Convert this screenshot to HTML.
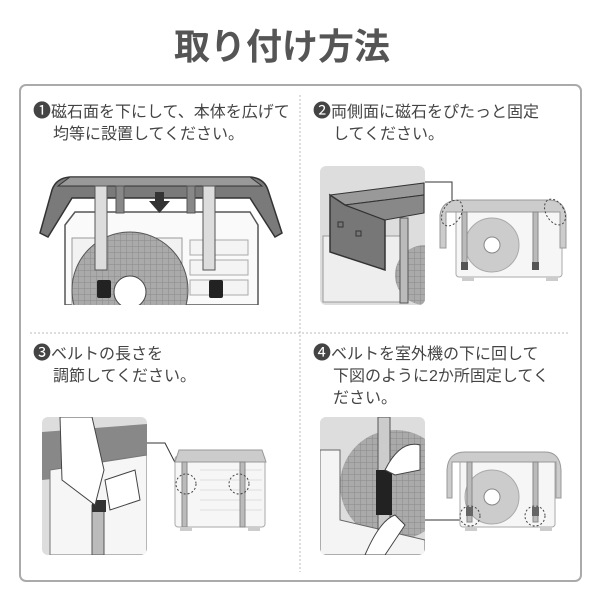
<!DOCTYPE html>
<html><head><meta charset="utf-8"><style>
body{margin:0;background:#fff;}
svg{display:block}
text{font-family:"Liberation Sans","Noto Sans CJK JP",sans-serif;fill:#444;}
</style></head><body>
<svg width="600" height="600" viewBox="0 0 600 600" xmlns="http://www.w3.org/2000/svg">
<text x="282" y="59" font-size="36" font-weight="bold" text-anchor="middle" style="fill:#555">取り付け方法</text>
<rect x="20" y="85" width="561" height="496" rx="6" fill="#fff" stroke="#aaa" stroke-width="2"/>
<line x1="300" y1="95" x2="300" y2="572" stroke="#bbb" stroke-dasharray="2,2"/>
<line x1="30" y1="333" x2="570" y2="333" stroke="#bbb" stroke-dasharray="2,2"/>

<g font-size="16">
<text x="33" y="117"><tspan font-size="18">❶</tspan>磁石面を下にして、本体を広げて</text>
<text x="53" y="139">均等に設置してください。</text>
<text x="313" y="117"><tspan font-size="18">❷</tspan>両側面に磁石をぴたっと固定</text>
<text x="333" y="139">してください。</text>
<text x="33" y="359"><tspan font-size="18">❸</tspan>ベルトの長さを</text>
<text x="53" y="381">調節してください。</text>
<text x="313" y="359"><tspan font-size="18">❹</tspan>ベルトを室外機の下に回して</text>
<text x="333" y="381">下図のように2か所固定してく</text>
<text x="333" y="403">ださい。</text>
</g>

<defs><clipPath id="c1"><rect x="30" y="160" width="260" height="145"/></clipPath>
<clipPath id="c2"><rect x="320" y="166" width="105" height="139" rx="6"/></clipPath>
<clipPath id="c3"><rect x="42" y="417" width="105" height="138" rx="6"/></clipPath>
<clipPath id="c4"><rect x="320" y="417" width="105" height="138" rx="6"/></clipPath>
<pattern id="grid" width="6" height="6" patternUnits="userSpaceOnUse"><rect width="6" height="6" fill="#aaa"/><path d="M0 0H6M0 0V6" stroke="#8a8a8a" stroke-width="1"/></pattern></defs>
<!-- Panel 1 -->
<g clip-path="url(#c1)">
<path d="M65 225 L75 212 L250 212 L258 225 L258 305 L65 305Z" fill="#fafafa" stroke="#555" stroke-width="1.5"/>
<rect x="72" y="238" width="110" height="70" fill="#f2f2f2" stroke="#999"/>
<g fill="#f4f4f4" stroke="#aaa"><rect x="190" y="240" width="58" height="15"/><rect x="190" y="260" width="58" height="15"/><rect x="190" y="280" width="58" height="15"/></g>
<circle cx="130" cy="290" r="58" fill="url(#grid)" stroke="#555"/>
<circle cx="130" cy="292" r="16" fill="#fff" stroke="#444"/>
</g>
<path d="M40 233 L52 190 Q56 178 70 177 L250 177 Q264 178 268 190 L282 233 L275 237 L250 198 L72 198 L48 237Z" fill="#7a7a7a" stroke="#333" stroke-width="1.5"/>
<path d="M70 177 L250 177 L262 186 L58 186Z" fill="#999" stroke="#333"/>
<rect x="95" y="186" width="12" height="84" fill="#ddd" stroke="#555"/>
<rect x="203" y="186" width="12" height="84" fill="#ddd" stroke="#555"/>
<rect x="116" y="186" width="8" height="27" fill="#888" stroke="#555"/>
<rect x="187" y="186" width="8" height="27" fill="#888" stroke="#555"/>
<path d="M155 192 H164 V201 H170 L159.5 213 L149 201 H155Z" fill="#333"/>
<rect x="97" y="280" width="14" height="18" rx="2" fill="#222"/>
<rect x="209" y="280" width="14" height="18" rx="2" fill="#222"/>

<!-- Panel 2 -->
<g clip-path="url(#c2)">
<rect x="320" y="166" width="105" height="139" fill="#ddd"/>
<rect x="323" y="236" width="80" height="66" fill="#eee" stroke="#999"/>
<circle cx="425" cy="275" r="30" fill="url(#grid)"/>
<path d="M330 195 L424 183 L424 195 L345 205Z" fill="#999" stroke="#333"/>
<path d="M330 195 L345 205 L385 220 L385 270 L330 252Z" fill="#777" stroke="#333" stroke-width="1.5"/>
<path d="M345 205 L424 195 L424 213 L385 220Z" fill="#888" stroke="#333"/>
<rect x="400" y="218" width="8" height="85" fill="#bbb" stroke="#555"/>
<rect x="338" y="222" width="5" height="5" fill="none" stroke="#333"/><rect x="356" y="231" width="5" height="5" fill="none" stroke="#333"/>
</g>
<polyline points="425,182 452,182 452,205" fill="none" stroke="#333"/>
<rect x="456" y="205" width="106" height="72" rx="3" fill="#f6f6f6" stroke="#aaa"/>
<path d="M440 215 Q442 200 460 200 L548 200 Q564 200 566 215 L566 248 L560 248 L560 212 L446 212 L446 248 L440 248Z" fill="#ccc" stroke="#999"/>
<circle cx="492" cy="245" r="27" fill="#ccc" stroke="#aaa"/><circle cx="492" cy="245" r="8" fill="#fff" stroke="#888"/>
<rect x="462" y="212" width="5" height="55" fill="#bbb" stroke="#888"/><rect x="533" y="212" width="5" height="55" fill="#bbb" stroke="#888"/>
<rect x="461" y="262" width="7" height="8" fill="#555"/><rect x="532" y="262" width="7" height="8" fill="#555"/>
<rect x="462" y="277" width="12" height="4" fill="#ccc"/><rect x="546" y="277" width="12" height="4" fill="#ccc"/>
<ellipse cx="452" cy="213" rx="9" ry="14" transform="rotate(30 452 213)" fill="none" stroke="#444" stroke-dasharray="2,2"/>
<ellipse cx="555" cy="212" rx="9" ry="14" transform="rotate(-30 555 212)" fill="none" stroke="#444" stroke-dasharray="2,2"/>

<!-- Panel 3 -->
<g clip-path="url(#c3)">
<rect x="42" y="417" width="105" height="138" fill="#ddd"/>
<path d="M42 432 L147 424 L147 470 L42 480Z" fill="#888"/>
<path d="M50 470 L147 455 L147 555 L50 555Z" fill="#f6f6f6" stroke="#777"/>
<rect x="92" y="505" width="12" height="50" fill="#bbb" stroke="#555"/>
<rect x="92" y="500" width="14" height="12" fill="#333"/>
<path d="M60 417 L62 480 L95 505 L104 470 L92 417Z" fill="#fff" stroke="#444"/>
<path d="M105 480 L135 470 L140 500 L110 510Z" fill="#fff" stroke="#444"/>
</g>
<polyline points="147,443 165,443 185,482" fill="none" stroke="#333"/>
<rect x="175" y="456" width="90" height="71" rx="3" fill="#f6f6f6" stroke="#aaa"/>
<path d="M175 462 L179 450 L262 450 L266 462Z" fill="#ccc" stroke="#999"/>
<g stroke="#ddd"><line x1="200" y1="470" x2="262" y2="470"/><line x1="200" y1="480" x2="262" y2="480"/><line x1="200" y1="490" x2="262" y2="490"/><line x1="200" y1="500" x2="262" y2="500"/><line x1="200" y1="510" x2="262" y2="510"/></g>
<rect x="182" y="462" width="5" height="65" fill="#bbb" stroke="#888"/><rect x="240" y="462" width="5" height="65" fill="#bbb" stroke="#888"/>
<circle cx="186" cy="484" r="10" fill="none" stroke="#444" stroke-dasharray="2,2"/>
<circle cx="239" cy="484" r="10" fill="none" stroke="#444" stroke-dasharray="2,2"/>
<rect x="180" y="527" width="12" height="4" fill="#ccc"/><rect x="248" y="527" width="12" height="4" fill="#ccc"/>

<!-- Panel 4 -->
<g clip-path="url(#c4)">
<rect x="320" y="417" width="105" height="138" fill="#ddd"/>
<circle cx="395" cy="485" r="55" fill="url(#grid)"/>
<path d="M320 450 L340 450 L340 520 L425 540 L425 555 L320 555Z" fill="#f4f4f4" stroke="#666"/>
<rect x="378" y="417" width="12" height="115" fill="#ccc" stroke="#555"/>
<rect x="376" y="470" width="16" height="45" fill="#222"/>
<path d="M385 470 Q400 440 420 445 L420 470 L395 475Z" fill="#fff" stroke="#444"/>
<path d="M365 555 Q380 520 395 515 L405 525 L385 555Z" fill="#fff" stroke="#444"/>
</g>
<polyline points="425,520 470,520" fill="none" stroke="#333"/>
<rect x="460" y="455" width="95" height="72" rx="3" fill="#f6f6f6" stroke="#aaa"/>
<path d="M447 470 Q448 452 465 452 L545 452 Q560 452 561 470 L561 498 L556 498 L556 462 L452 462 L452 498 L447 498Z" fill="#ccc" stroke="#999"/>
<circle cx="492" cy="497" r="27" fill="#ccc" stroke="#aaa"/><circle cx="492" cy="497" r="8" fill="#fff" stroke="#888"/>
<rect x="467" y="462" width="5" height="60" fill="#bbb" stroke="#888"/><rect x="533" y="462" width="5" height="60" fill="#bbb" stroke="#888"/>
<rect x="466" y="507" width="7" height="9" fill="#666"/><rect x="532" y="507" width="7" height="9" fill="#666"/>
<circle cx="470" cy="516" r="10" fill="none" stroke="#444" stroke-dasharray="2,2"/>
<circle cx="535" cy="516" r="10" fill="none" stroke="#444" stroke-dasharray="2,2"/>
<rect x="465" y="527" width="12" height="4" fill="#ccc"/><rect x="540" y="527" width="12" height="4" fill="#ccc"/>
</svg>
</body></html>
